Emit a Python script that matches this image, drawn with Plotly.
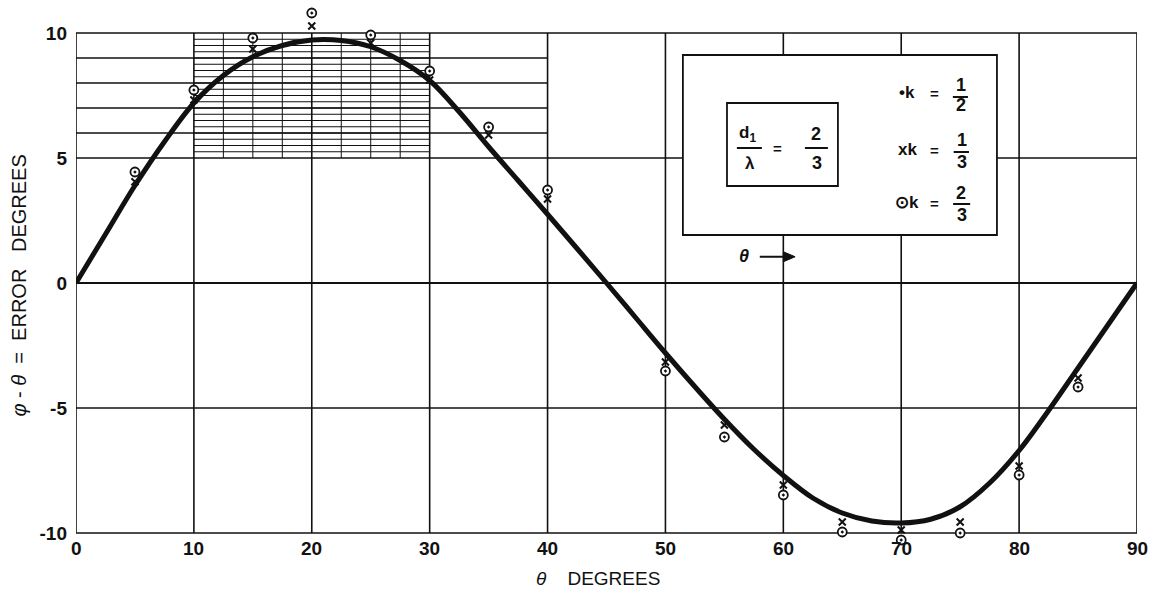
import plotly.graph_objects as go

# ---- data ----
theta_pts = [5, 10, 15, 20, 25, 30, 35, 40, 50, 55, 60, 65, 70, 75, 80, 85]
err_k_third = [4.05, 7.32, 9.36, 10.28, 9.6, 8.12, 5.92, 3.36, -3.16, -5.68, -8.08, -9.56, -9.88, -9.56, -7.32, -3.8]
err_k_two_thirds = [4.44, 7.72, 9.8, 10.8, 9.92, 8.48, 6.24, 3.72, -3.52, -6.16, -8.48, -9.96, -10.28, -10.0, -7.68, -4.16]

curve_theta = [0, 2.5, 5, 7.5, 10, 12.5, 15, 17.5, 20, 22.5, 25, 27.5, 30, 32.5, 35, 37.5, 40, 42.5, 45,
               47.5, 50, 52.5, 55, 57.5, 60, 62.5, 65, 67.5, 70, 72.5, 75, 77.5, 80, 82.5, 85, 87.5, 90]
curve_err = [0, 1.95, 3.9, 5.65, 7.2, 8.3, 9.05, 9.5, 9.72, 9.7, 9.45, 8.9, 8.1, 6.85, 5.45, 4.1, 2.75, 1.38, 0,
             -1.4, -2.8, -4.15, -5.45, -6.65, -7.7, -8.6, -9.2, -9.52, -9.6, -9.45, -8.95, -8.0, -6.7, -5.1, -3.4, -1.7, 0]

x_ticks = [0, 10, 20, 30, 40, 50, 60, 70, 80, 90]
y_ticks = [-10, -5, 0, 5, 10]
y_tick_text = ["-10", "-5", "0", "5", "10"]

BLACK = "#111111"
FONT = "Liberation Sans, Arial, sans-serif"

fig = go.Figure()

fig.add_trace(go.Scatter(x=curve_theta, y=curve_err, mode="lines",
                         line=dict(color=BLACK, width=5, shape="spline", smoothing=1.0),
                         hoverinfo="skip", showlegend=False))
fig.add_trace(go.Scatter(x=theta_pts, y=err_k_two_thirds, mode="markers",
                         marker=dict(symbol="circle-dot", size=9, color="white",
                                     line=dict(color=BLACK, width=1.8)),
                         cliponaxis=False, showlegend=False, name="k = 2/3"))
fig.add_trace(go.Scatter(x=theta_pts, y=err_k_third, mode="markers",
                         marker=dict(symbol="x-thin", size=7, color=BLACK,
                                     line=dict(color=BLACK, width=2)),
                         cliponaxis=False, showlegend=False, name="k = 1/3"))

shapes = []

def hline(y, x0, x1, w):
    shapes.append(dict(type="line", xref="x", yref="y", x0=x0, x1=x1, y0=y, y1=y,
                       line=dict(color=BLACK, width=w), layer="below"))

def vline(x, y0, y1, w):
    shapes.append(dict(type="line", xref="x", yref="y", x0=x, x1=x, y0=y0, y1=y1,
                       line=dict(color=BLACK, width=w), layer="below"))

# major grid / frame
for v in y_ticks:
    hline(v, 0, 90, 2.2 if v == 0 else 1.6)
for v in x_ticks:
    vline(v, -10, 10, 1.6)
# minor horizontal lines upper-left
for v in [6, 7, 8, 9]:
    hline(v, 0, 40, 1.4)
# fine hatch 10..30 x 5..10
k = 5.25
while k < 10:
    hline(k, 10, 30, 1.0)
    k += 0.25
for v in [12.5, 15, 17.5, 22.5, 25, 27.5]:
    vline(v, 5, 10, 1.0)

# legend boxes
shapes.append(dict(type="rect", xref="x", yref="y", x0=51.48, x1=78.12, y0=1.92, y1=9.12,
                   line=dict(color=BLACK, width=1.8), fillcolor="white", layer="above"))
shapes.append(dict(type="rect", xref="x", yref="y", x0=55.22, x1=64.63, y0=3.88, y1=7.2,
                   line=dict(color=BLACK, width=1.8), fillcolor="rgba(0,0,0,0)", layer="above"))

def bar(x0, x1, y):
    shapes.append(dict(type="line", xref="x", yref="y", x0=x0, x1=x1, y0=y, y1=y,
                       line=dict(color=BLACK, width=2), layer="above"))

bar(56.06, 58.18, 5.4)
bar(61.83, 63.78, 5.4)
bar(74.38, 75.66, 7.44)
bar(74.45, 75.75, 5.24)
bar(74.40, 75.85, 3.16)

# "theta ->" arrow
shapes.append(dict(type="line", xref="x", yref="y", x0=58.0, x1=60.3, y0=1.05, y1=1.05,
                   line=dict(color=BLACK, width=2), layer="above"))
shapes.append(dict(type="path", xref="x", yref="y", path="M 60.0 1.25 L 61.0 1.05 L 60.0 0.85 Z",
                   line=dict(color=BLACK, width=1), fillcolor=BLACK, layer="above"))

ann = []

def txt(x, y, s, size=18, bold=True, xshift=0, yshift=0):
    ann.append(dict(x=x, y=y, xref="x", yref="y", text=("<b>%s</b>" % s) if bold else s,
                    showarrow=False, font=dict(family=FONT, size=size, color=BLACK),
                    xanchor="center", yanchor="middle", xshift=xshift, yshift=yshift))

txt(56.95, 5.95, "d<sub>1</sub>", 17)
txt(57.2, 4.8, "λ", 17)
txt(59.54, 5.4, "=", 15)
txt(62.8, 5.95, "2", 18)
txt(62.85, 4.8, "3", 18)

txt(70.5, 7.64, "•k", 17)
txt(72.86, 7.6, "=", 15)
txt(75.06, 7.92, "1", 18)
txt(75.1, 7.12, "2", 18)

txt(70.5, 5.36, "xk", 17)
txt(72.86, 5.32, "=", 15)
txt(75.15, 5.72, "1", 18)
txt(75.15, 4.84, "3", 18)

txt(70.5, 3.24, "⊙k", 17)
txt(72.86, 3.2, "=", 15)
txt(75.1, 3.6, "2", 18)
txt(75.15, 2.72, "3", 18)

txt(56.7, 1.1, "<i>θ</i>", 18)

# x tick labels drawn at the axis values
for v in x_ticks:
    txt(v, -10, str(v), 19, yshift=-15)

# axis titles
ann.append(dict(x=0, xref="paper", xshift=-58, y=-0.1, yref="y",
                text="<i>φ</i> - <i>θ</i>  =  ERROR   DEGREES",
                textangle=-90, showarrow=False, font=dict(family=FONT, size=20, color=BLACK),
                xanchor="center", yanchor="middle"))
ann.append(dict(x=44.3, xref="x", y=-10, yref="y", yshift=-45, text="<i>θ</i>    DEGREES",
                showarrow=False, font=dict(family=FONT, size=19, color=BLACK),
                xanchor="center", yanchor="middle"))

fig.update_layout(
    width=1161, height=599,
    margin=dict(l=76, r=24, t=8, b=51),
    paper_bgcolor="white", plot_bgcolor="white",
    shapes=shapes, annotations=ann,
    xaxis=dict(range=[0, 90], showticklabels=False,
               showgrid=False, zeroline=False, showline=False, ticks="", fixedrange=True),
    yaxis=dict(range=[-10.6, 11.0], tickvals=y_ticks, ticktext=["<b>%s</b>" % t for t in y_tick_text],
               showgrid=False, zeroline=False, showline=False, ticks="", ticklabelstandoff=8,
               tickfont=dict(family=FONT, size=19, color=BLACK), fixedrange=True),
)

fig.write_html("out.html", config={"displayModeBar": False},
               post_script="document.body.style.margin='0';")
